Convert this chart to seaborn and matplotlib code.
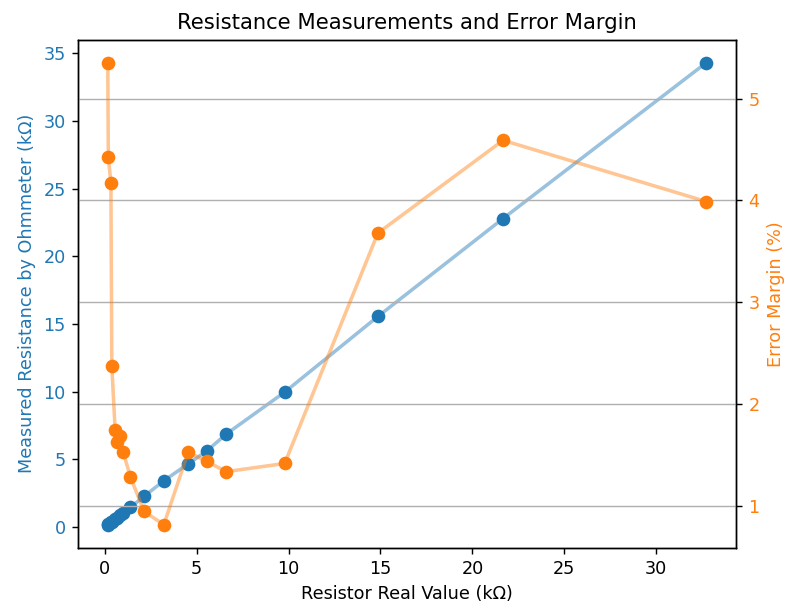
import matplotlib
matplotlib.use("Agg")
import matplotlib.pyplot as plt
import seaborn as sns

# values
real_value = [0.17, 0.20, 0.34, 0.39, 0.57, 0.65, 0.85, 1.01, 1.40, 2.14,
              3.22, 4.54, 5.56, 6.61, 9.79, 14.86, 21.67, 32.71]
measured = [0.18, 0.21, 0.35, 0.40, 0.58, 0.66, 0.86, 1.03, 1.45, 2.27,
            3.42, 4.67, 5.63, 6.87, 9.97, 15.56, 22.80, 34.30]
error_pct = [5.35, 4.43, 4.17, 2.38, 1.75, 1.63, 1.69, 1.53, 1.29, 0.95,
             0.82, 1.53, 1.44, 1.34, 1.42, 3.68, 4.59, 3.99]

blue = "#1f77b4"
orange = "#ff7f0e"

fig, ax1 = plt.subplots(figsize=(811 / 127, 612 / 127), dpi=127)
fig.subplots_adjust(left=0.096, right=0.9075, top=0.935, bottom=0.105)

# measured resistance on the left axis
sns.lineplot(x=real_value, y=measured, ax=ax1, color=blue, alpha=0.45, linewidth=2)
sns.scatterplot(x=real_value, y=measured, ax=ax1, color=blue, s=60,
                linewidth=0, zorder=3)
ax1.set_xlabel("Resistor Real Value (kΩ)")
ax1.set_ylabel("Measured Resistance by Ohmmeter (kΩ)", color=blue)
ax1.tick_params(axis="y", labelcolor=blue)

# error margin on the right axis
ax2 = ax1.twinx()
sns.lineplot(x=real_value, y=error_pct, ax=ax2, color=orange, alpha=0.45, linewidth=2)
sns.scatterplot(x=real_value, y=error_pct, ax=ax2, color=orange, s=60,
                linewidth=0, zorder=3)
ax2.set_ylabel("Error Margin (%)", color=orange)
ax2.tick_params(axis="y", labelcolor=orange)
ax2.grid(True, axis="y")

ax1.set_title("Resistance Measurements and Error Margin", fontsize=12)

fig.savefig("out.png", dpi=127)
